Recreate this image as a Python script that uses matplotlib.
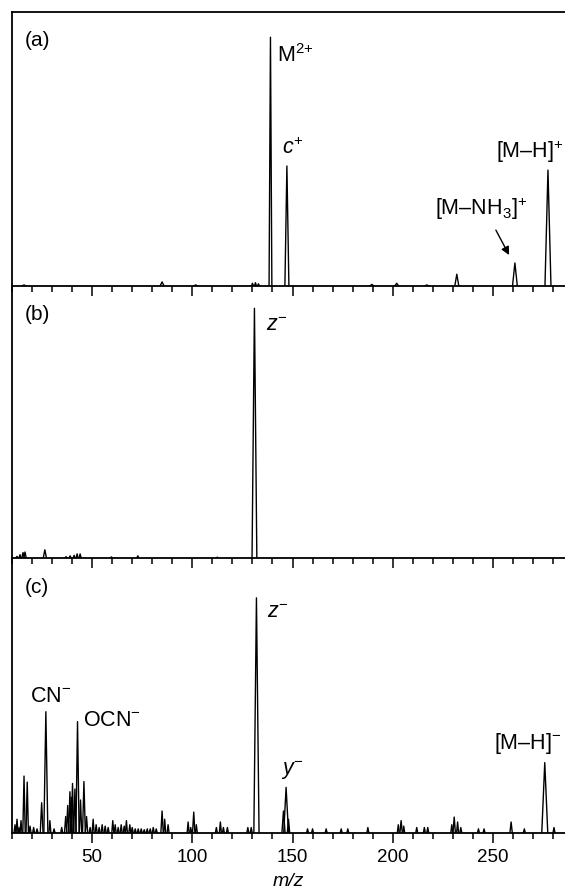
import matplotlib
matplotlib.use('Agg')
import matplotlib.pyplot as plt
from matplotlib.ticker import MultipleLocator

plt.rcParams['font.family'] = ['Liberation Sans', 'DejaVu Sans']
plt.rcParams['mathtext.fontset'] = 'custom'
plt.rcParams['mathtext.rm'] = 'Liberation Sans'
plt.rcParams['mathtext.it'] = 'Liberation Sans:italic'

# (a) positive ion spectrum: m/z, relative intensity, half width of peak
mz_a = [16, 84.9, 101.7, 130, 131.5, 133, 139, 147.2, 189.6, 202, 217, 232, 261, 277.5]
int_a = [0.004, 0.015, 0.004, 0.01, 0.012, 0.008, 0.908, 0.438, 0.006, 0.01, 0.004,
         0.043, 0.084, 0.423]
hw_a = [1, 1, 1, 0.5, 0.5, 0.5, 0.7, 1.0, 1, 1, 1, 1.0, 1.2, 1.5]

# (b) negative ion spectrum
mz_b = [12.5, 14, 15.5, 16.5, 26.4, 37, 39, 41, 42.5, 44, 59.6, 72.8, 112.5, 131]
int_b = [0.006, 0.012, 0.02, 0.022, 0.03, 0.005, 0.008, 0.01, 0.015, 0.015, 0.004,
         0.008, 0.003, 0.918]
hw_b = [0.5, 0.5, 0.6, 0.6, 0.8, 0.5, 0.5, 0.5, 0.5, 0.5, 0.5, 0.5, 0.5, 1.2]

# (c) negative ion spectrum
mz_c = [11.5, 12.5, 13.5, 14.5, 16.0, 17.6, 19.0, 20.8, 22.5, 24.8, 26.9, 28.9, 31,
        34.8, 36.8, 37.8, 38.9, 39.6, 40.2, 41.4, 42.7, 44.2, 45.9, 47.2, 49, 50.5,
        52, 53.5, 55, 56.5, 58, 60.3, 61.5, 63, 64.5, 66, 67.1, 68.8, 70, 71.5, 73,
        74.5, 76, 77.5, 79, 80.5, 82, 84.9, 86.2, 87.9, 97.9, 99.2, 100.7, 102, 112,
        114, 115.5, 117.5, 127.7, 129.4, 132, 145.5, 146.8, 148, 157.5, 160, 166.8,
        174.3, 177.6, 187.6, 202.8, 204.2, 205.5, 212, 215.8, 217.5, 229.5, 230.7,
        232.4, 234, 242.8, 245.6, 259.1, 265.7, 275.9, 280.5]
int_c = [0.03, 0.05, 0.02, 0.045, 0.207, 0.185, 0.025, 0.02, 0.015, 0.11, 0.441,
         0.045, 0.015, 0.02, 0.06, 0.1, 0.15, 0.13, 0.18, 0.16, 0.405, 0.12, 0.187,
         0.06, 0.02, 0.05, 0.03, 0.02, 0.03, 0.025, 0.02, 0.045, 0.03, 0.02, 0.03,
         0.025, 0.045, 0.03, 0.02, 0.015, 0.015, 0.015, 0.012, 0.015, 0.015, 0.02,
         0.015, 0.08, 0.05, 0.03, 0.04, 0.02, 0.076, 0.03, 0.02, 0.04, 0.02, 0.02,
         0.02, 0.02, 0.855, 0.08, 0.166, 0.05, 0.015, 0.015, 0.015, 0.015, 0.015,
         0.02, 0.03, 0.045, 0.025, 0.02, 0.02, 0.02, 0.03, 0.058, 0.04, 0.02, 0.015,
         0.015, 0.04, 0.015, 0.256, 0.02]
hw_c = [0.5, 0.5, 0.5, 0.5, 0.6, 0.6, 0.5, 0.5, 0.5, 0.7, 1.0, 0.5, 0.5, 0.5, 0.6,
        0.6, 0.6, 0.5, 0.6, 0.6, 0.8, 0.6, 0.7, 0.6, 0.5, 0.5, 0.5, 0.5, 0.5, 0.5,
        0.5, 0.5, 0.5, 0.5, 0.5, 0.5, 0.5, 0.5, 0.5, 0.5, 0.5, 0.5, 0.5, 0.5, 0.5,
        0.5, 0.5, 0.6, 0.5, 0.5, 0.5, 0.5, 0.6, 0.5, 0.5, 0.5, 0.5, 0.5, 0.5, 0.5,
        1.3, 0.8, 1.2, 0.6, 0.5, 0.5, 0.5, 0.5, 0.5, 0.5, 0.5, 0.6, 0.5, 0.5, 0.5,
        0.5, 0.5, 0.6, 0.5, 0.5, 0.5, 0.5, 0.6, 0.5, 1.5, 0.5]

panel_labels = ['(a)', '(b)', '(c)']


def draw_peaks(ax, mz, inten, hw):
    for c, h, w in zip(mz, inten, hw):
        ax.plot([c - w, c, c + w], [0, h, 0], color='black', lw=1.0)


W, H = 565.0, 892.0


def box(top, bottom):
    return [12 / W, 1 - bottom / H, 1 - 12 / W, (bottom - top) / H]


fig = plt.figure(figsize=(W / 100, H / 100), dpi=100)
ax_a = fig.add_axes(box(12, 286))
ax_b = fig.add_axes(box(286, 558), sharex=ax_a)
ax_c = fig.add_axes(box(558, 833), sharex=ax_a)
axes = [ax_a, ax_b, ax_c]

draw_peaks(ax_a, mz_a, int_a, hw_a)
draw_peaks(ax_b, mz_b, int_b, hw_b)
draw_peaks(ax_c, mz_c, int_c, hw_c)

for ax, lab in zip(axes, panel_labels):
    ax.patch.set_visible(False)
    ax.set_ylim(0, 1)
    ax.set_xlim(10, 286)
    ax.spines['right'].set_visible(False)
    for s in ('left', 'bottom', 'top'):
        ax.spines[s].set_linewidth(1.3)
    ax.set_yticks([])
    ax.xaxis.set_major_locator(MultipleLocator(50))
    ax.xaxis.set_minor_locator(MultipleLocator(10))
    ax.tick_params(axis='x', which='major', direction='out', length=7.5, width=1.1,
                   labelsize=13.5, pad=4, top=False)
    ax.tick_params(axis='x', which='minor', direction='out', length=4, width=1.1,
                   top=False)
    ax.text(13 / 553, 1 - 29 / 274, lab, transform=ax.transAxes, fontsize=15,
            va='center', ha='left')

ax_b.spines['top'].set_visible(False)
ax_c.spines['top'].set_visible(False)
ax_a.tick_params(labelbottom=False)
ax_b.tick_params(labelbottom=False)
ax_c.set_xlabel('m/z', style='italic', fontsize=14, labelpad=5)

fs = 15.5
# (a) labels
ax_a.text(142.5, 0.818, r'M$^{2{+}}$', fontsize=fs, va='baseline')
ax_a.text(145, 0.482, r'$\mathit{c}^{+}$', fontsize=fs, va='baseline')
ax_a.text(251.5, 0.467, r'[M–H]$^{+}$', fontsize=fs, va='baseline')
ax_a.text(221.3, 0.259, r'[M–NH$_{3}$]$^{+}$', fontsize=fs, va='baseline')
ax_a.annotate('', xy=(258.1, 0.113), xytext=(251.5, 0.204),
              arrowprops=dict(arrowstyle='-|>', color='black', lw=1.0,
                              mutation_scale=12, shrinkA=0, shrinkB=0))

# (b) labels
ax_b.text(137, 0.836, r'$\mathit{z}^{-}$', fontsize=fs, va='baseline')

# (c) labels
ax_c.text(137.5, 0.78, r'$\mathit{z}^{-}$', fontsize=fs, va='baseline')
ax_c.text(144.4, 0.21, r'$\mathit{y}^{-}$', fontsize=fs, va='baseline')
ax_c.text(250.7, 0.304, r'[M–H]$^{-}$', fontsize=fs, va='baseline')
ax_c.text(19, 0.478, r'CN$^{-}$', fontsize=fs, va='baseline')
ax_c.text(45.4, 0.388, r'OCN$^{-}$', fontsize=fs, va='baseline')

fig.savefig('out.png', dpi=100)
